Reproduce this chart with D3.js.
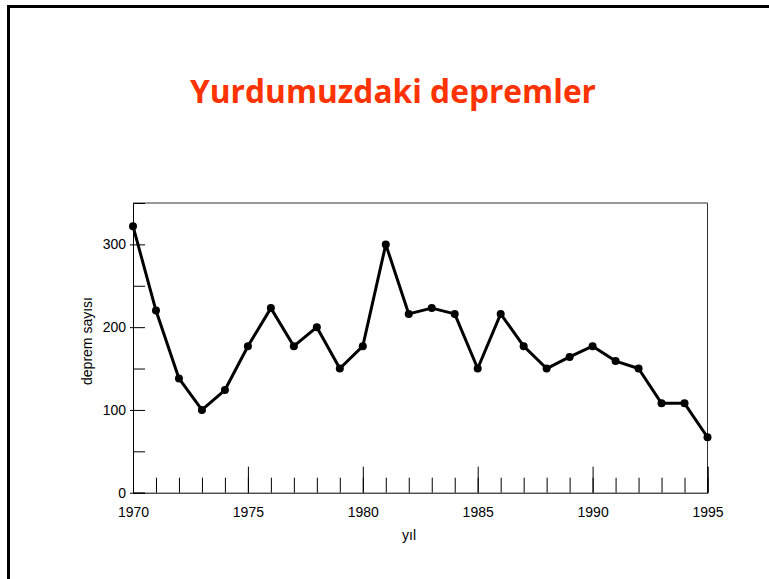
<!DOCTYPE html>
<html>
<head>
<meta charset="utf-8">
<script src="https://cdn.jsdelivr.net/npm/d3@7"></script>
<style>
  html, body { margin: 0; padding: 0; background: #fff; }
  svg { display: block; }
  text { font-family: "Liberation Sans", Arial, sans-serif; fill: #000; }
</style>
</head>
<body>
<svg id="chart" width="769" height="579"></svg>
<script>
// Yearly earthquake counts
const years = [1970, 1971, 1972, 1973, 1974, 1975, 1976, 1977, 1978, 1979,
               1980, 1981, 1982, 1983, 1984, 1985, 1986, 1987, 1988, 1989,
               1990, 1991, 1992, 1993, 1994, 1995];
const counts = [322, 220, 138, 100, 124, 177, 223, 177, 200, 150,
                177, 300, 216, 223, 216, 150, 216, 177, 150, 164,
                177, 159, 150, 108, 108, 67];

const xMajorTicks = [1970, 1975, 1980, 1985, 1990, 1995];
const yMajorTicks = [0, 100, 200, 300];
const yMinorTicks = [50, 150, 250];

const titleText = "Yurdumuzdaki depremler";
const xTitle = "yıl";
const yTitle = "deprem sayısı";

const svg = d3.select("#chart");

// slide frame
svg.append("rect")
  .attr("x", 8.5).attr("y", 6.5)
  .attr("width", 800).attr("height", 620)
  .attr("fill", "none").attr("stroke", "#000").attr("stroke-width", 3);

// title
svg.append("text")
  .attr("x", 393).attr("y", 103)
  .attr("text-anchor", "middle")
  .attr("textLength", 406).attr("lengthAdjust", "spacingAndGlyphs")
  .style("font-family", '"Comic Sans MS", "Open Sans", "DejaVu Sans", sans-serif')
  .style("font-weight", "bold")
  .style("font-size", "32px")
  .style("fill", "#ff3300")
  .text(titleText);

const plotLeft = 133, plotRight = 707.5, plotTop = 203, plotBottom = 492.7;

const x = d3.scaleLinear().domain([1970, 1995]).range([plotLeft, plotRight]);
const y = d3.scaleLinear().domain([0, 350]).range([plotBottom, plotTop]);

// plot box top and right edges
svg.append("path")
  .attr("d", `M${plotLeft},${plotTop}H${plotRight}V${plotBottom}`)
  .attr("fill", "none").attr("stroke", "#333").attr("stroke-width", 1);

// x axis: minor ticks every year, longer ticks every five years (all pointing inward)
const gxMinor = svg.append("g").attr("transform", `translate(0,${plotBottom})`)
  .call(d3.axisBottom(x).tickValues(years).tickSize(-15).tickFormat(""));
gxMinor.select(".domain").remove();

const gx = svg.append("g").attr("transform", `translate(0,${plotBottom})`)
  .call(d3.axisBottom(x).tickValues(xMajorTicks).tickSize(-26).tickPadding(14).tickFormat(d3.format("d")));
gx.select(".domain").attr("stroke", "#000");
gx.selectAll("text").style("font-size", "14px").style("font-family", '"Liberation Sans", Arial, sans-serif');

// y axis
const gyMinor = svg.append("g").attr("transform", `translate(${plotLeft},0)`)
  .call(d3.axisLeft(y).tickValues(yMinorTicks).tickSize(-12).tickFormat(""));
gyMinor.select(".domain").remove();

const gy = svg.append("g").attr("transform", `translate(${plotLeft},0)`)
  .call(d3.axisLeft(y).tickValues(yMajorTicks).tickSize(-12).tickPadding(7).tickFormat(d3.format("d")));
gy.select(".domain").attr("stroke", "#000");
gy.selectAll(".tick line").attr("x1", -3);
gy.selectAll("text").style("font-size", "14px").style("font-family", '"Liberation Sans", Arial, sans-serif');

// axis titles
svg.append("text")
  .attr("x", 409).attr("y", 540)
  .attr("text-anchor", "middle")
  .style("font-size", "14px")
  .text(xTitle);

svg.append("text")
  .attr("transform", "translate(92,341) rotate(-90)")
  .attr("text-anchor", "middle")
  .style("font-size", "14px")
  .text(yTitle);

// series
const data = years.map((yr, i) => ({ year: yr, value: counts[i] }));

svg.append("path")
  .datum(data)
  .attr("fill", "none")
  .attr("stroke", "#000")
  .attr("stroke-width", 3)
  .attr("stroke-linejoin", "round")
  .attr("d", d3.line().x(d => x(d.year)).y(d => y(d.value)));

svg.selectAll("circle.pt")
  .data(data)
  .join("circle")
  .attr("class", "pt")
  .attr("cx", d => x(d.year))
  .attr("cy", d => y(d.value))
  .attr("r", 4)
  .attr("fill", "#000");
</script>
</body>
</html>
